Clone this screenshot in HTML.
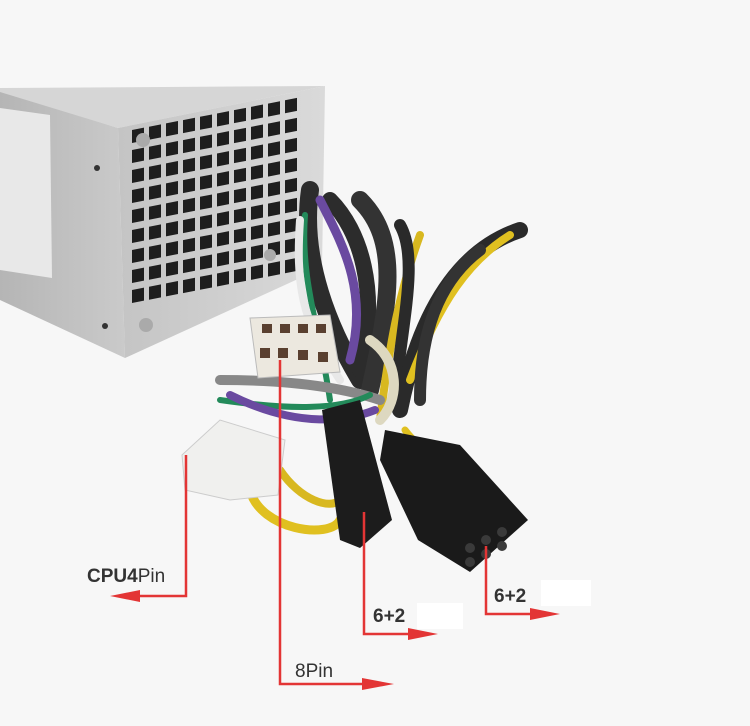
<!DOCTYPE html>
<html><head><meta charset="utf-8"><style>
html,body{margin:0;padding:0;background:#f7f7f7;}
svg{display:block}
text{font-family:"Liberation Sans",sans-serif;fill:#333}
</style></head><body>
<svg width="750" height="726" viewBox="0 0 750 726" xmlns="http://www.w3.org/2000/svg">
<defs>
<linearGradient id="side" x1="0" x2="1"><stop offset="0" stop-color="#b5b5b5"/><stop offset="1" stop-color="#cacaca"/></linearGradient>
<linearGradient id="front" x1="0" x2="1"><stop offset="0" stop-color="#c4c4c4"/><stop offset="1" stop-color="#dadada"/></linearGradient>
</defs>
<rect width="750" height="726" fill="#f7f7f7"/>
<!-- PSU -->
<polygon points="0,90 118,128 125,358 0,300" fill="url(#side)"/>
<polygon points="0,88 325,86 118,128 0,92" fill="#d6d6d6"/>
<polygon points="118,128 325,86 322,268 125,358" fill="url(#front)"/>
<polygon points="0,108 50,115 52,278 0,270" fill="#e8e8e8"/>
<g fill="#1e1e1e" transform="translate(132,170) skewY(-11)">
<g id="row">
<rect x="0" y="0" width="12" height="13"/><rect x="17" y="0" width="12" height="13"/><rect x="34" y="0" width="12" height="13"/><rect x="51" y="0" width="12" height="13"/><rect x="68" y="0" width="12" height="13"/><rect x="85" y="0" width="12" height="13"/><rect x="102" y="0" width="12" height="13"/><rect x="119" y="0" width="12" height="13"/><rect x="136" y="0" width="12" height="13"/><rect x="153" y="0" width="12" height="13"/>
</g>
<use href="#row" y="-20"/><use href="#row" y="-40"/><use href="#row" y="20"/><use href="#row" y="40"/><use href="#row" y="60"/><use href="#row" y="80"/><use href="#row" y="100"/><use href="#row" y="120"/>
</g>
<circle cx="143" cy="140" r="7" fill="#aaa"/><circle cx="146" cy="325" r="7" fill="#aaa"/><circle cx="270" cy="255" r="6" fill="#aaa"/>
<circle cx="97" cy="168" r="3" fill="#333"/><circle cx="105" cy="326" r="3" fill="#333"/>
<!-- cables -->
<g fill="none" stroke-linecap="round">
<path d="M310,190 C300,260 330,330 360,380" stroke="#2c2c2c" stroke-width="18"/>
<path d="M330,200 C360,230 380,290 360,370" stroke="#2c2c2c" stroke-width="16"/>
<path d="M320,200 C340,240 370,290 350,360" stroke="#6a4aa0" stroke-width="9"/>
<path d="M305,215 C300,280 320,330 330,400" stroke="#238a5a" stroke-width="6"/>
<path d="M300,220 C296,280 300,320 340,380" stroke="#e8e8e8" stroke-width="8"/>
<path d="M360,200 C400,240 390,300 370,390" stroke="#333" stroke-width="18"/>
<path d="M420,235 C400,290 390,340 380,420" stroke="#d8b820" stroke-width="8"/>
<path d="M400,225 C420,260 400,330 395,400" stroke="#2a2a2a" stroke-width="12"/>
<path d="M520,230 C460,250 420,310 400,410" stroke="#2a2a2a" stroke-width="16"/>
<path d="M510,235 C470,260 440,300 410,380" stroke="#e0c020" stroke-width="8"/>
<path d="M480,250 C440,280 420,330 420,400" stroke="#333" stroke-width="12"/>
<path d="M220,380 C300,380 350,390 380,400" stroke="#888" stroke-width="10"/>
<path d="M220,400 C290,410 340,410 370,395" stroke="#238a5a" stroke-width="6"/>
<path d="M230,395 C300,430 350,420 375,410" stroke="#6a4aa0" stroke-width="8"/>
<path d="M250,490 C260,530 330,540 340,520" stroke="#e0c020" stroke-width="9"/>
<path d="M280,470 C300,500 330,510 340,500" stroke="#d8b820" stroke-width="8"/>
<path d="M370,340 C400,360 400,400 380,420" stroke="#ddd8c0" stroke-width="10"/>
<path d="M405,430 C420,450 440,460 450,470" stroke="#e0c020" stroke-width="7"/>
</g>
<!-- 8pin white -->
<polygon points="250,318 330,315 340,372 258,378" fill="#ece8df" stroke="#bbb"/>
<g fill="#5a4030"><rect x="262" y="324" width="10" height="9"/><rect x="280" y="324" width="10" height="9"/><rect x="298" y="324" width="10" height="9"/><rect x="316" y="324" width="10" height="9"/>
<rect x="260" y="348" width="10" height="10"/><rect x="278" y="348" width="10" height="10"/><rect x="298" y="350" width="10" height="10"/><rect x="318" y="352" width="10" height="10"/></g>
<!-- cpu 4pin white -->
<polygon points="182,455 220,420 285,440 278,495 230,500 185,490" fill="#f0f0ee" stroke="#ccc"/>
<!-- black connectors -->
<polygon points="322,410 360,400 392,520 360,548 340,540" fill="#1c1c1c"/>
<polygon points="385,430 460,445 528,520 470,572 418,540 380,460" fill="#1a1a1a"/>
<g fill="#3a3a3a"><circle cx="470" cy="548" r="5"/><circle cx="486" cy="540" r="5"/><circle cx="502" cy="532" r="5"/><circle cx="470" cy="562" r="5"/><circle cx="486" cy="554" r="5"/><circle cx="502" cy="546" r="5"/></g>
<!-- white boxes -->
<rect x="417" y="603" width="46" height="26" fill="#fff"/>
<rect x="541" y="580" width="50" height="26" fill="#fff"/>
<!-- red lines -->
<g stroke="#e33535" stroke-width="2.5" fill="none">
<path d="M186,455 V596 H118"/>
<path d="M280,360 V684 H386"/>
<path d="M364,512 V634 H430"/>
<path d="M486,546 V614 H552"/>
</g>
<g fill="#e33535">
<polygon points="110,596 140,590 140,602"/>
<polygon points="394,684 362,678 362,690"/>
<polygon points="438,634 408,628 408,640"/>
<polygon points="560,614 530,608 530,620"/>
</g>
<text x="87" y="582" font-size="19" style="font-weight:bold">CPU4<tspan style="font-weight:normal">Pin</tspan></text>
<text x="295" y="677" font-size="19" style="font-weight:normal">8Pin</text>
<text x="373" y="622" font-size="19" style="font-weight:bold">6+2</text>
<text x="494" y="602" font-size="19" style="font-weight:bold">6+2</text>
</svg>
</body></html>
